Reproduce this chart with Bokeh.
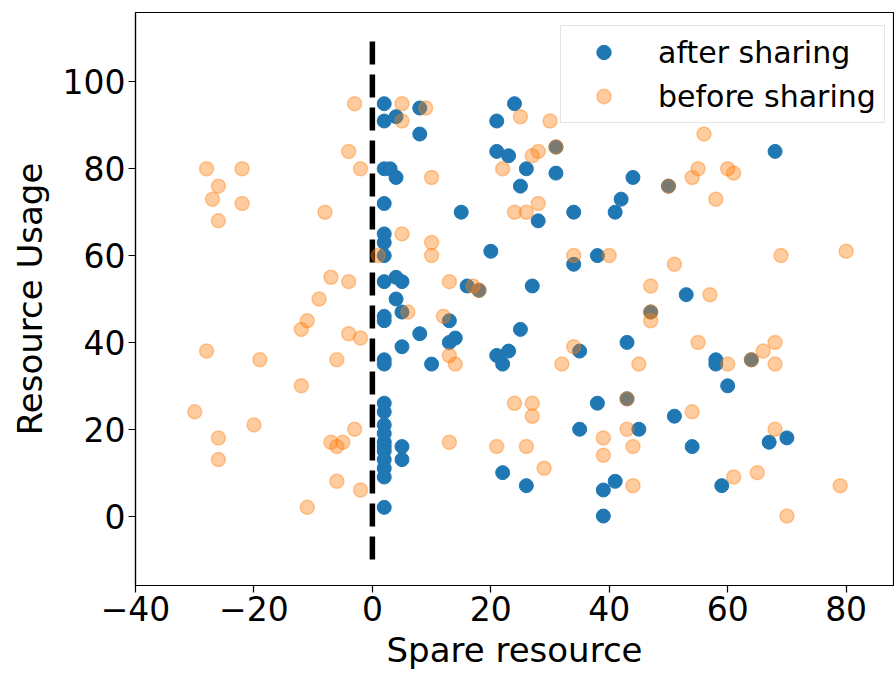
from bokeh.plotting import figure
from bokeh.models import Range1d, FixedTicker, Legend, LegendItem
from bokeh.embed import file_html
from bokeh.resources import INLINE

# ---- data ----
after_x = [2, 2, 4, 8, 8, 2, 3, 4, 2, 2, 2, 2, 2, 4, 5, 4, 5, 2, 2, 5, 8, 2, 2,
           2, 2, 2, 2, 2, 2, 2, 2, 2, 2, 2, 5, 5,
           10, 13, 14, 13, 15, 16, 18, 20, 21, 21, 23, 24, 25, 26, 28, 31, 31, 27, 25, 21, 23, 22, 22, 26,
           34, 34, 38, 41, 42, 44, 35, 43, 38, 43, 35, 45, 41, 39, 39,
           50, 47, 53, 58, 58, 60, 51, 54, 59, 64, 67, 70, 68]
after_y = [95, 91, 92, 94, 88, 80, 80, 78, 72, 65, 63, 60, 54, 55, 54, 50, 47, 46, 45, 39, 42, 36, 35,
           26, 24, 21, 19, 17, 16, 15, 13, 11, 9, 2, 16, 13,
           35, 45, 41, 40, 70, 53, 52, 61, 91, 84, 83, 95, 76, 80, 68, 85, 79, 53, 43, 37, 38, 35, 10, 7,
           70, 58, 60, 70, 73, 78, 38, 40, 26, 27, 20, 20, 8, 6, 0,
           76, 47, 51, 36, 35, 30, 23, 16, 7, 36, 17, 18, 84]

before_x = [-3, -4, -2, -28, -22, -26, -27, -22, -8, -26, 1, 5, -7, -4, -9, -11, -12, -4, -2, -28, -19, -6,
            -12, -30, -20, -26, -26, -7, -5, -6, -3, -6, -2, -11,
            5, 5, 9, 10, 10, 10, 13, 17, 18, 6, 12, 13, 14, 13,
            25, 30, 31, 28, 27, 22, 24, 26, 28, 34, 40, 34, 32, 45, 24, 27, 27, 21, 26, 29, 43, 39, 39, 43, 44, 44,
            56, 55, 54, 60, 61, 58, 50, 69, 80, 51, 47, 57, 47, 47, 55, 60, 64, 66, 68, 68, 54, 68, 65, 61, 79, 70]
before_y = [95, 84, 80, 80, 80, 76, 73, 72, 70, 68, 60, 65, 55, 54, 50, 45, 43, 42, 41, 38, 36, 36,
            30, 24, 21, 18, 13, 17, 17, 16, 20, 8, 6, 2,
            95, 91, 94, 78, 63, 60, 54, 53, 52, 47, 46, 37, 35, 17,
            92, 91, 85, 84, 83, 80, 70, 70, 72, 60, 60, 39, 35, 35, 26, 26, 23, 16, 16, 11, 27, 18, 14, 20, 16, 7,
            88, 80, 78, 80, 79, 73, 76, 60, 61, 58, 53, 51, 47, 45, 40, 35, 36, 38, 40, 35, 24, 20, 10, 9, 7, 0]

threshold_x = [0, 0]
threshold_y = [-10, 110]

x_ticks = [-40, -20, 0, 20, 40, 60, 80]
y_ticks = [0, 20, 40, 60, 80, 100]
series_names = ["after sharing", "before sharing"]
x_label = "Spare resource"
y_label = "Resource Usage"

X_LO, X_HI = -40, 88
Y_LO, Y_HI = -16, 116

BLUE = "#1f77b4"
ORANGE = "#ff7f0e"
FONT = "DejaVu Sans"

p = figure(width=894, height=673, output_backend="svg", toolbar_location=None,
           x_range=Range1d(X_LO, X_HI), y_range=Range1d(Y_LO, Y_HI),
           min_border_left=135, min_border_right=1, min_border_top=12, min_border_bottom=88)

p.xgrid.visible = False
p.ygrid.visible = False
p.outline_line_color = "black"
p.outline_line_width = 1.2
p.background_fill_color = "white"
p.border_fill_color = "white"

p.line(threshold_x, threshold_y, line_color="black", line_width=5.5, line_dash="23 10")

r_after = p.scatter(after_x, after_y, size=14, fill_color=BLUE, line_color=BLUE, line_width=1)
r_before = p.scatter(before_x, before_y, size=14, fill_color=ORANGE, fill_alpha=0.4,
                     line_color=ORANGE, line_alpha=0.4, line_width=1.5)

for ax in (p.xaxis[0], p.yaxis[0]):
    ax.axis_line_color = "black"
    ax.axis_line_width = 1.2
    ax.major_tick_line_color = "black"
    ax.major_tick_line_width = 1.2
    ax.major_tick_out = 7
    ax.major_tick_in = 0
    ax.minor_tick_line_color = None
    ax.major_label_text_font = FONT
    ax.major_label_text_font_size = "33px"
    ax.major_label_text_color = "black"
    ax.axis_label_text_font = FONT
    ax.axis_label_text_font_size = "34px"
    ax.axis_label_text_font_style = "normal"
    ax.axis_label_text_color = "black"

p.xaxis[0].ticker = FixedTicker(ticks=x_ticks)
p.yaxis[0].ticker = FixedTicker(ticks=y_ticks)
p.xaxis[0].major_label_overrides = {t: ("\u2212" + str(-t) if t < 0 else str(t)) for t in x_ticks}
p.xaxis[0].axis_label = x_label
p.yaxis[0].axis_label = y_label
p.xaxis[0].major_label_standoff = 3
p.xaxis[0].axis_label_standoff = 6
p.yaxis[0].major_label_standoff = 3
p.yaxis[0].axis_label_standoff = 10

legend = Legend(items=[LegendItem(label=series_names[0], renderers=[r_after]),
                       LegendItem(label=series_names[1], renderers=[r_before])],
                location=(425, 462), orientation="vertical",
                padding=8, spacing=8, glyph_width=69, glyph_height=36, label_height=36,
                label_standoff=20,
                label_text_font=FONT, label_text_font_size="30px", label_text_color="black",
                border_line_color="#cccccc", border_line_width=1.2,
                background_fill_color="white", background_fill_alpha=0.8)
p.add_layout(legend)

open("out.html", "w").write(file_html(p, INLINE))
